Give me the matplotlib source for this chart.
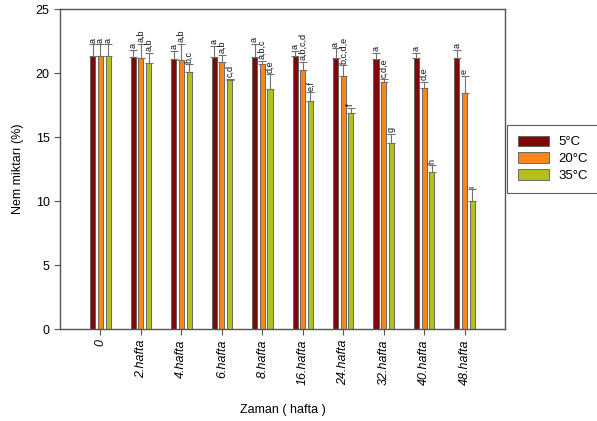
import numpy as np
import matplotlib
matplotlib.use("Agg")
import matplotlib.pyplot as plt
from matplotlib.patches import Patch

plt.rcParams['font.family'] = ['Liberation Sans', 'DejaVu Sans']

categories = ["0", "2.hafta", "4.hafta", "6.hafta", "8.hafta", "16.hafta",
              "24.hafta", "32.hafta", "40.hafta", "48.hafta"]
series_names = ["5°C", "20°C", "35°C"]

moist_5 = [21.35, 21.27, 21.10, 21.27, 21.25, 21.33, 21.15, 21.10, 21.20, 21.17]
moist_20 = [21.35, 21.20, 21.05, 20.86, 20.70, 20.23, 19.74, 19.27, 18.83, 18.44]
moist_35 = [21.35, 20.78, 20.10, 19.43, 18.75, 17.80, 16.85, 14.55, 12.24, 10.02]

err_5 = [0.90, 0.55, 0.65, 0.85, 1.05, 0.40, 0.80, 0.50, 0.40, 0.65]
err_20 = [0.90, 1.10, 1.25, 0.55, 0.25, 0.65, 0.85, 0.25, 0.50, 1.35]
err_35 = [0.90, 0.80, 0.60, 0.10, 1.15, 0.70, 0.45, 0.70, 0.55, 0.90]

letters_5 = ["a"] * 10
letters_20 = ["a", "a,b", "a,b", "a,b", "a,b,c", "a,b,c,d", "b,c,d,e", "c,d,e", "d,e", "e"]
letters_35 = ["a", "a,b", "b,c", "c,d", "d,e", "e,f", "f", "g", "h", "i"]

colors = ["#7d0a0a", "#f5871f", "#b4c01e"]
edge = "#5a5a5a"

fig = plt.figure(figsize=(5.97, 4.21), dpi=100)
ax = fig.add_axes([0.1005, 0.2185, 0.7455, 0.7601])

x = np.arange(len(categories))
offset = 0.19
width = 0.125
values = [moist_5, moist_20, moist_35]
errors = [err_5, err_20, err_35]
letters = [letters_5, letters_20, letters_35]

for i, (vals, errs, labs) in enumerate(zip(values, errors, letters)):
    xs = x + (i - 1) * offset
    ax.bar(xs, vals, width=width, color=colors[i], edgecolor=edge, linewidth=0.6, zorder=2)
    ax.errorbar(xs, vals, yerr=[np.zeros(len(vals)), errs], fmt="none",
                ecolor="#707070", elinewidth=0.8, capsize=3.2, capthick=0.8, zorder=3)
    for xi, v, e, t in zip(xs, vals, errs, labs):
        ax.text(xi, v + e + 0.12, t, rotation=90, ha="center", va="bottom",
                fontsize=6.5, color="#111111")

ax.set_xlim(-1, len(categories))
ax.set_ylim(0, 25)
ax.set_yticks([0, 5, 10, 15, 20, 25])
ax.set_xticks(x)
ax.set_xticklabels(categories, rotation=90, style="italic", fontsize=9)
ax.tick_params(axis="y", labelsize=9, direction="out", length=4, color="#555555")
ax.tick_params(axis="x", direction="out", length=4, color="#555555")
for s in ax.spines.values():
    s.set_color("#555555")
    s.set_linewidth(1.0)

ax.set_ylabel("Nem miktarı (%)", fontsize=9, labelpad=8)
ax.set_xlabel("Zaman ( hafta )", fontsize=9, labelpad=14)

handles = [Patch(facecolor=c, edgecolor=edge, linewidth=0.6) for c in colors]
leg = fig.legend(handles, series_names, loc="upper left",
                 bbox_to_anchor=(507 / 597, 1 - 125 / 421), fontsize=9.5,
                 frameon=True, fancybox=False, edgecolor="#333333",
                 handlelength=2.4, handleheight=0.85, borderpad=0.8,
                 labelspacing=0.3, handletextpad=0.7, borderaxespad=0)
leg.get_frame().set_linewidth(0.8)

fig.savefig("out.png", dpi=100)
